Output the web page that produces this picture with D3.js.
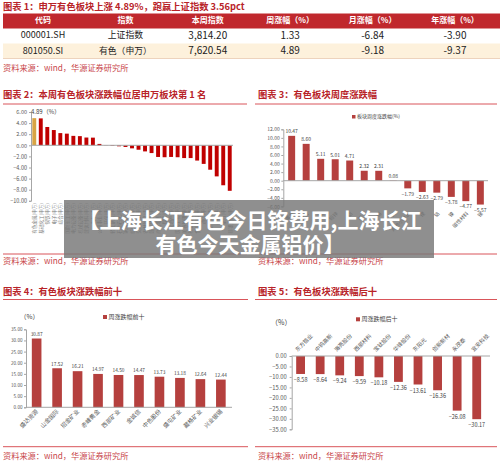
<!DOCTYPE html>
<html><head><meta charset="utf-8">
<script src="https://cdn.jsdelivr.net/npm/d3@7"></script>
<style>
body{margin:0;background:#fff}
svg{display:block}
text{font-family:"Noto Sans CJK SC","Noto Sans",sans-serif}
</style>
</head><body><svg id="c" width="500" height="465"></svg>
<script>
// ---------- data ----------
const tableHeaders = ["代码","指数","本周指数","周涨幅（%）","月涨幅（%）","年涨幅（%）"];
const tableRow1 = ["000001.SH","上证指数","3,814.20","1.33","-6.84","-3.90"];
const tableRow2 = ["801050.SI","有色（申万）","7,620.54","4.89","-9.18","-9.37"];

const swCategories = ["有色金属(申万)","基础化工(申万)","钢铁(申万)","电子(申万)","综合(申万)","国防军工(申万)","电力设备(申万)","机械设备(申万)","建筑材料(申万)","汽车(申万)","公用事业(申万)","环保(申万)","轻工制造(申万)","石油石化(申万)","家用电器(申万)","纺织服饰(申万)","交通运输(申万)","农林牧渔(申万)","建筑装饰(申万)","商贸零售(申万)","煤炭(申万)","房地产(申万)","医药生物(申万)","美容护理(申万)","社会服务(申万)","食品饮料(申万)","通信(申万)","计算机(申万)","传媒(申万)","银行(申万)","非银金融(申万)"];
const swValues = [4.89,4.85,3.30,2.75,2.20,2.10,1.70,1.65,1.40,1.38,0.25,0.03,-0.10,-0.18,-0.30,-0.55,-0.80,-1.10,-1.40,-2.10,-2.15,-2.10,-2.15,-2.30,-2.30,-2.75,-3.35,-4.40,-5.60,-7.20,-8.20];
const swTicks = [6,4,2,0,-2,-4,-6,-8,-10];

const subCategories = ["黄金","白银","铜","铅锌","铝","稀土","锡","钨","其他小金属","锂","钴","镍","磁性材料","锑"];
const subValues = [10.47,8.60,5.11,5.01,4.71,2.32,2.31,0.08,-1.79,-2.63,-2.79,-3.78,-4.77,-5.57];
const subTicks = [12,10,8,6,4,2,0,-2,-4,-6];

const topNames = ["盛达资源","山金国际","招金矿业","赤峰黄金","西部矿业","金诚信","中色股份","盛屯矿业","藏格矿业","兴业银锡"];
const topValues = [30.87,17.52,16.21,14.97,14.50,14.47,13.73,13.18,12.64,12.44];
const topTicks = [35,30,25,20,15,10,5,0];

const bottomNames = ["东方锆业","中钨高新","海亮股份","西部材料","宝钛股份","华锋股份","东阳光","创新新材","永茂泰","宜安科技"];
const bottomValues = [-8.58,-8.64,-9.24,-9.59,-10.18,-12.36,-13.61,-16.36,-26.08,-30.17];
const bottomTicks = [0,-5,-10,-15,-20,-25,-30,-35];

// ---------- styles ----------
const RED = "#c0282d";
const TITLE_RED = "#b82328";
const BAR_RED = "#b5403e";
const BAR_RED2 = "#c00000";
const GOLD = "#d8a444";
const AX = "#a6a6a6";
const LBL = "#595959";
const SRC = "资料来源：wind，华源证券研究所";

const svg = d3.select("#c");
svg.append("rect").attr("width",500).attr("height",465).attr("fill","#fff");

function title(x,y,t){
  svg.append("text").attr("x",x).attr("y",y).attr("dominant-baseline","middle")
    .attr("font-size",9.3).attr("font-weight","bold").attr("fill",TITLE_RED).text(t);
}
function hline(x1,x2,y,c,w){
  svg.append("line").attr("x1",x1).attr("x2",x2).attr("y1",y).attr("y2",y)
    .attr("stroke",c||"#d9555a").attr("stroke-width",w||1);
}
function source(x,y){
  svg.append("text").attr("x",x).attr("y",y).attr("dominant-baseline","middle")
    .attr("font-size",8.2).attr("fill","#c8464a").text(SRC);
}
function styleAxis(g){
  g.selectAll("path").attr("stroke",AX);
  g.selectAll("line").attr("stroke",AX);
  g.selectAll("text").attr("fill",LBL);
}

// ---------- Section 1: table ----------
title(3,7,"图表 1：申万有色板块上涨 4.89%，跑赢上证指数 3.56pct");
const colX = d3.scalePoint().domain(d3.range(6)).range([43,455]);
svg.append("rect").attr("x",3).attr("y",13.5).attr("width",497).attr("height",15).attr("fill",RED);
svg.append("rect").attr("x",3).attr("y",43.5).attr("width",497).attr("height",15).attr("fill","#fdf1dc");
hline(3,500,58.5,"#e8c9b0",0.8);
svg.selectAll(".th").data(tableHeaders).enter().append("text")
  .attr("x",(d,i)=>colX(i)).attr("y",21).attr("text-anchor","middle").attr("dominant-baseline","middle")
  .attr("font-size",8).attr("font-weight","bold").attr("fill","#fff").text(d=>d);
[tableRow1,tableRow2].forEach((row,r)=>{
  svg.selectAll(".tr"+r).data(row).enter().append("text")
    .attr("x",(d,i)=>colX(i)).attr("y",r?51.5:36).attr("text-anchor","middle").attr("dominant-baseline","middle")
    .attr("font-size",(d,i)=>i===1?8.8:(i===0?9:10))
    .attr("font-family",(d,i)=>i>=2?"'Liberation Serif',serif":null)
    .attr("fill","#222").text(d=>d);
});
source(3,68.5);

// ---------- Section 2 ----------
title(3,95,"图表 2：本周有色板块涨跌幅位居申万板块第 1 名");
hline(3,247,104);
{
  const y = d3.scaleLinear().domain([-10,6]).range([200.8,112]);
  const x = d3.scaleBand().domain(swCategories).range([31,233]).paddingInner(0.4).paddingOuter(0.2);
  const ga = svg.append("g").attr("transform","translate(31,0)")
    .call(d3.axisLeft(y).tickValues(swTicks).tickFormat(d3.format(".2f")).tickSize(2).tickPadding(2));
  ga.selectAll("text").attr("font-size",5.5).attr("font-family","Arial, 'Liberation Sans', sans-serif");
  styleAxis(ga);
  svg.selectAll(".b2").data(swValues).enter().append("rect")
    .attr("x",(d,i)=>x(swCategories[i])).attr("width",x.bandwidth())
    .attr("y",d=>y(Math.max(0,d))).attr("height",d=>Math.abs(y(d)-y(0)))
    .attr("fill",(d,i)=>i===0?GOLD:BAR_RED2);
  svg.append("line").attr("x1",31).attr("x2",233).attr("y1",y(0)).attr("y2",y(0)).attr("stroke",AX);
  svg.append("text").attr("x",31).attr("y",112).attr("dominant-baseline","middle")
    .attr("font-size",6).attr("fill","#404040").text("4.89（%）");
  svg.selectAll(".l2").data(swCategories).enter().append("text")
    .attr("transform",d=>`translate(${x(d)+x.bandwidth()/2+1.8},203) rotate(-90)`)
    .attr("text-anchor","end").attr("font-size",4.6).attr("fill","#7f7f7f").text(d=>d);
}
hline(3,247,254);
source(3,262);

// ---------- Section 3 ----------
title(258,95,"图表 3：有色板块周度涨跌幅");
hline(255,497,104);
{
  const y = d3.scaleLinear().domain([-6,12]).range([206.4,129.3]);
  const x = d3.scaleBand().domain(subCategories).range([284.4,487.6]).paddingInner(0.52).paddingOuter(0.26);
  svg.append("rect").attr("x",352).attr("y",115).attr("width",3.5).attr("height",3.5).attr("fill",BAR_RED);
  svg.append("text").attr("x",357).attr("y",117).attr("dominant-baseline","middle")
    .attr("font-size",5).attr("fill","#404040").text("板块周度涨跌幅(%)");
  const ga = svg.append("g").attr("transform","translate(283.3,0)")
    .call(d3.axisLeft(y).tickValues(subTicks).tickFormat(d3.format(".2f")).tickSize(2).tickPadding(1.5));
  ga.selectAll("text").attr("font-size",5).attr("font-family","Arial, 'Liberation Sans', sans-serif");
  styleAxis(ga);
  svg.selectAll(".b3").data(subValues).enter().append("rect")
    .attr("x",(d,i)=>x(subCategories[i])).attr("width",x.bandwidth())
    .attr("y",d=>y(Math.max(0,d))).attr("height",d=>Math.abs(y(d)-y(0)))
    .attr("fill",BAR_RED);
  svg.append("line").attr("x1",283.3).attr("x2",488).attr("y1",y(0)).attr("y2",y(0)).attr("stroke",AX);
  svg.selectAll(".v3").data(subValues).enter().append("text")
    .attr("x",(d,i)=>x(subCategories[i])+x.bandwidth()/2)
    .attr("y",d=>d>=0?y(d)-4:y(d)+6).attr("text-anchor","middle").attr("dominant-baseline","middle")
    .attr("font-size",5).attr("font-family","Arial, 'Liberation Sans', sans-serif").attr("fill","#404040")
    .text(d=>d3.format(".2f")(d));
  svg.selectAll(".l3").data(subCategories).enter().append("text")
    .attr("transform",d=>`translate(${x(d)+x.bandwidth()/2+3},214) rotate(-45)`)
    .attr("text-anchor","end").attr("font-size",5).attr("fill","#595959").text(d=>d);
}
hline(255,497,254);
source(258,262);

// ---------- Section 4 ----------
title(3,292.7,"图表 4：有色板块涨跌幅前十");
hline(3,248,299.5);
{
  const y = d3.scaleLinear().domain([0,35]).range([407.3,329.3]);
  const x = d3.scaleBand().domain(topNames).range([26.5,231]).paddingInner(0.53).paddingOuter(0.26);
  svg.append("text").attr("x",20).attr("y",317).attr("dominant-baseline","middle")
    .attr("font-size",6.5).attr("fill","#404040").text("（%）");
  svg.append("rect").attr("x",103).attr("y",315).attr("width",4).attr("height",4).attr("fill",BAR_RED);
  svg.append("text").attr("x",108.5).attr("y",317).attr("dominant-baseline","middle")
    .attr("font-size",6).attr("fill","#404040").text("周涨跌幅前十");
  const ga = svg.append("g").attr("transform","translate(26,0)")
    .call(d3.axisLeft(y).tickValues(topTicks).tickFormat(d3.format(".2f")).tickSize(2).tickPadding(1.5));
  ga.selectAll("text").attr("font-size",4.6).attr("font-family","Arial, 'Liberation Sans', sans-serif");
  styleAxis(ga);
  svg.selectAll(".b4").data(topValues).enter().append("rect")
    .attr("x",(d,i)=>x(topNames[i])).attr("width",x.bandwidth())
    .attr("y",d=>y(d)).attr("height",d=>y(0)-y(d)).attr("fill",BAR_RED);
  svg.append("line").attr("x1",26).attr("x2",232).attr("y1",y(0)).attr("y2",y(0)).attr("stroke",AX);
  svg.selectAll(".v4").data(topValues).enter().append("text")
    .attr("x",(d,i)=>x(topNames[i])+x.bandwidth()/2).attr("y",d=>y(d)-4)
    .attr("text-anchor","middle").attr("dominant-baseline","middle")
    .attr("font-size",4.8).attr("font-family","Arial, 'Liberation Sans', sans-serif").attr("fill","#404040")
    .text(d=>d3.format(".2f")(d));
  svg.selectAll(".l4").data(topNames).enter().append("text")
    .attr("transform",d=>`translate(${x(d)+x.bandwidth()/2+2},412) rotate(-45)`)
    .attr("text-anchor","end").attr("font-size",5.8).attr("fill","#595959").text(d=>d);
}
hline(3,248,446.7);
source(3,456.7);

// ---------- Section 5 ----------
title(258,292.7,"图表 5：有色板块涨跌幅后十");
hline(255,497,299.5);
{
  const y = d3.scaleLinear().domain([-35,0]).range([429.3,356]);
  const x = d3.scaleBand().domain(bottomNames).range([290.9,486.4]).paddingInner(0.55).paddingOuter(0.27);
  svg.append("text").attr("x",271).attr("y",323.3).attr("dominant-baseline","middle")
    .attr("font-size",7).attr("fill","#404040").text("（%）");
  svg.append("rect").attr("x",356).attr("y",317.3).attr("width",4).attr("height",4).attr("fill",BAR_RED);
  svg.append("text").attr("x",361.5).attr("y",319.3).attr("dominant-baseline","middle")
    .attr("font-size",6).attr("fill","#404040").text("周涨跌幅后十");
  const ga = svg.append("g").attr("transform","translate(291.7,0)")
    .call(d3.axisLeft(y).tickValues(bottomTicks).tickFormat(d3.format(".2f")).tickSize(2).tickPadding(3));
  ga.selectAll("text").attr("font-size",5.8).attr("font-family","Arial, 'Liberation Sans', sans-serif");
  styleAxis(ga);
  svg.selectAll(".b5").data(bottomValues).enter().append("rect")
    .attr("x",(d,i)=>x(bottomNames[i])).attr("width",x.bandwidth())
    .attr("y",y(0)).attr("height",d=>y(d)-y(0)).attr("fill",BAR_RED);
  svg.append("line").attr("x1",291.7).attr("x2",490).attr("y1",y(0)).attr("y2",y(0)).attr("stroke",AX);
  svg.selectAll(".v5").data(bottomValues).enter().append("text")
    .attr("x",(d,i)=>x(bottomNames[i])+x.bandwidth()/2).attr("y",d=>y(d)+6.5)
    .attr("text-anchor","middle").attr("dominant-baseline","middle")
    .attr("font-size",5.5).attr("font-family","Arial, 'Liberation Sans', sans-serif").attr("fill","#404040")
    .text(d=>d3.format(".2f")(d));
  svg.selectAll(".l5").data(bottomNames).enter().append("text")
    .attr("transform",d=>`translate(${x(d)+x.bandwidth()/2-3},352) rotate(-45)`)
    .attr("text-anchor","start").attr("font-size",5.5).attr("fill","#595959").text(d=>d);
}
hline(255,497,446.7);
source(258,456.7);

// ---------- overlay ----------
svg.append("rect").attr("x",64).attr("y",200).attr("width",370).attr("height",58)
  .attr("fill","rgba(118,118,118,0.82)");
svg.append("text").attr("x",250).attr("y",218.5).attr("text-anchor","middle").attr("dominant-baseline","central")
  .attr("font-size",21).attr("font-weight","bold").attr("fill","#fff").text("【上海长江有色今日铬费用,上海长江");
svg.append("text").attr("x",250).attr("y",242.5).attr("text-anchor","middle").attr("dominant-baseline","central")
  .attr("font-size",21).attr("font-weight","bold").attr("fill","#fff").text("有色今天金属铝价】");
</script>
</body></html>
